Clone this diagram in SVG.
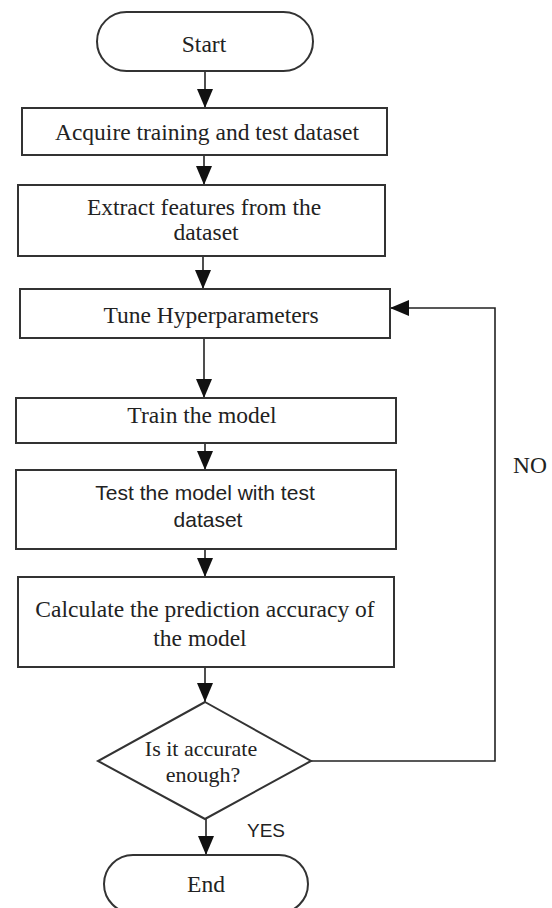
<svg xmlns="http://www.w3.org/2000/svg" width="552" height="908" viewBox="0 0 552 908">
<style>
.box{fill:#fff;stroke:#333;stroke-width:2}
.ln{fill:none;stroke:#222;stroke-width:1.6}
.t{font-family:"Liberation Serif","Times New Roman",serif;font-size:23.5px;fill:#222;text-anchor:middle}
.d{font-size:22px}
.s{font-family:"Liberation Sans",Arial,sans-serif;font-size:21px;fill:#222;text-anchor:middle}
</style>
<defs>
<marker id="ah" markerUnits="userSpaceOnUse" markerWidth="20" markerHeight="16" viewBox="0 0 20 16" refX="19" refY="8" orient="auto">
<path d="M0,0 L19,8 L0,16 Z" fill="#111"/>
</marker>
</defs>
<rect width="552" height="908" fill="#fff"/>
<g id="connectors">
<line class="ln" x1="205" y1="71" x2="205" y2="108" marker-end="url(#ah)"/>
<line class="ln" x1="204" y1="155" x2="204" y2="185" marker-end="url(#ah)"/>
<line class="ln" x1="203" y1="256" x2="203" y2="289" marker-end="url(#ah)"/>
<line class="ln" x1="204" y1="338" x2="204" y2="398" marker-end="url(#ah)"/>
<line class="ln" x1="205" y1="443" x2="205" y2="470" marker-end="url(#ah)"/>
<line class="ln" x1="205" y1="549" x2="205" y2="577" marker-end="url(#ah)"/>
<line class="ln" x1="205" y1="667" x2="205" y2="702" marker-end="url(#ah)"/>
<line class="ln" x1="206" y1="819" x2="206" y2="855" marker-end="url(#ah)"/>
<polyline class="ln" points="311,761 495,761 495,308 390,308" marker-end="url(#ah)"/>
<text class="t" x="530" y="473">NO</text>
<text class="s" x="266" y="837" style="font-size:19px">YES</text>
</g>
<g id="start">
<rect class="box" x="97" y="12" width="216" height="59" rx="29.5"/>
<text class="t" x="204" y="52">Start</text>
</g>
<g id="acquire">
<rect class="box" x="22" y="108" width="365" height="47"/>
<text class="t" x="207" y="140">Acquire training and test dataset</text>
</g>
<g id="extract">
<rect class="box" x="18" y="185" width="367" height="71"/>
<text class="t" x="204" y="215">Extract features from the</text>
<text class="t" x="206" y="240">dataset</text>
</g>
<g id="tune">
<rect class="box" x="20" y="289" width="370" height="49"/>
<text class="t" x="211" y="323">Tune Hyperparameters</text>
</g>
<g id="train">
<rect class="box" x="16" y="398" width="380" height="45"/>
<text class="t" x="202" y="423">Train the model</text>
</g>
<g id="test">
<rect class="box" x="16" y="470" width="380" height="79"/>
<text class="s" x="205" y="500">Test the model with test</text>
<text class="s" x="208" y="527">dataset</text>
</g>
<g id="calc">
<rect class="box" x="18" y="577" width="376" height="90"/>
<text class="t" x="205" y="617">Calculate the prediction accuracy of</text>
<text class="t" x="200" y="646">the model</text>
</g>
<g id="decision">
<polygon class="box" points="205,702 311,761 205,819 98,761"/>
<text class="t d" x="201" y="756">Is it accurate</text>
<text class="t d" x="203" y="782">enough?</text>
</g>
<g id="end">
<rect class="box" x="104" y="855" width="204" height="58" rx="29"/>
<text class="t" x="206" y="892">End</text>
</g>
</svg>
